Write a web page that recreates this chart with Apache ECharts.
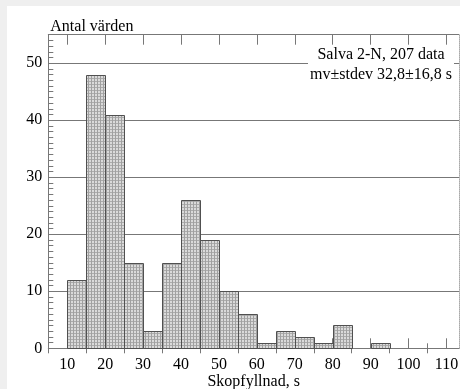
<!DOCTYPE html>
<html>
<head>
<meta charset="utf-8">
<script src="https://cdn.jsdelivr.net/npm/echarts@6/dist/echarts.min.js"></script>
<style>
html,body{margin:0;padding:0;background:#efefef;width:460px;height:389px;overflow:hidden;}
#c{position:absolute;left:7px;top:6px;width:453px;height:383px;background:#fff;}
</style>
</head>
<body>
<div id="c"></div>
<script>
// ---- data ----
const binStarts = [10,15,20,25,30,35,40,45,50,55,60,65,70,75,80,85,90];
const binWidth = 5;
const counts = [12,48,41,15,3,15,26,19,10,6,1,3,2,1,4,0,1];
const xMajorTicks = [10,20,30,40,50,60,70,80,90,100,110];
const xMinorTicks = [5,15,25,35,45,55,65,75,85,95,105];
const yTickLabels = [0,10,20,30,40,50];
const yAxisTitle = 'Antal värden';
const xAxisTitle = 'Skopfyllnad, s';
const infoLines = ['Salva 2-N, 207 data', 'mv±stdev 32,8±16,8 s'];

// ---- pattern ----
function makePattern(){
  const cv = document.createElement('canvas');
  cv.width = 3; cv.height = 3;
  const ctx = cv.getContext('2d');
  ctx.fillStyle = '#dadada'; ctx.fillRect(0,0,3,3);
  ctx.fillStyle = '#acacac'; ctx.fillRect(0,0,3,1);
  ctx.fillStyle = '#a0a0a0'; ctx.fillRect(0,0,1,3);
  return cv;
}
const pattern = {image: makePattern(), repeat: 'repeat'};

const FONT = '"Liberation Serif", "Times New Roman", serif';
const FS = 16;
const TXT = '#000';
const AX = '#777';
const X_MIN = 5, X_MAX = 113.3, Y_MIN = 0, Y_MAX = 55;

const histData = binStarts.map((s,i)=>[s, s+binWidth, counts[i]]);

const chart = echarts.init(document.getElementById('c'), null, {renderer:'canvas'});
chart.setOption({
  animation: false,
  backgroundColor: '#fff',
  title: {
    text: infoLines.join('\n'),
    left: 372, top: 39,
    textAlign: 'center',
    backgroundColor: '#fff',
    padding: [0, 2],
    textStyle: {fontFamily: FONT, fontSize: FS, fontWeight: 'normal', color: TXT, lineHeight: 20}
  },
  grid: {left: 41.3, right: 1, top: 28.7, bottom: 40.7, containLabel: false, outerBoundsMode: 'none'},
  xAxis: [
    {type:'value', position:'bottom', min:X_MIN, max:X_MAX,
     axisLine:{show:true, onZero:false, lineStyle:{color:AX, width:1}},
     axisTick:{show:true, inside:true, length:10, customValues:xMajorTicks, lineStyle:{color:AX}},
     axisLabel:{show:true, customValues:xMajorTicks, fontFamily:FONT, fontSize:FS, color:TXT, margin:8},
     splitLine:{show:false},
     name: xAxisTitle, nameLocation:'middle', nameGap:25, nameMoveOverlap:false,
     nameTextStyle:{fontFamily:FONT, fontSize:FS, color:TXT}},
    {type:'value', position:'bottom', offset:0, min:X_MIN, max:X_MAX,
     axisLine:{show:false},
     axisTick:{show:true, inside:true, length:5, customValues:xMinorTicks, lineStyle:{color:AX}},
     axisLabel:{show:false}, splitLine:{show:false}},
    {type:'value', position:'top', min:X_MIN, max:X_MAX,
     axisLine:{show:true, onZero:false, lineStyle:{color:AX, width:1}},
     axisTick:{show:true, inside:true, length:10, customValues:xMajorTicks, lineStyle:{color:AX}},
     axisLabel:{show:false}, splitLine:{show:false}},
    {type:'value', position:'top', offset:0, min:X_MIN, max:X_MAX,
     axisLine:{show:false},
     axisTick:{show:true, inside:true, length:5, customValues:xMinorTicks, lineStyle:{color:AX}},
     axisLabel:{show:false}, splitLine:{show:false}}
  ],
  yAxis: [
    {type:'value', position:'left', min:Y_MIN, max:Y_MAX, interval:10,
     axisLine:{show:true, onZero:false, lineStyle:{color:AX, width:1}},
     axisTick:{show:false},
     axisLabel:{show:true, customValues:yTickLabels, fontFamily:FONT, fontSize:FS, color:TXT, margin:6},
     splitLine:{show:true, lineStyle:{color:AX, width:1}},
     name: yAxisTitle, nameLocation:'end', nameGap:8, nameMoveOverlap:false,
     nameTextStyle:{fontFamily:FONT, fontSize:FS, color:TXT, align:'left', verticalAlign:'middle', padding:[0,0,0,2]}},
    {type:'value', position:'left', offset:0, min:Y_MIN, max:Y_MAX, interval:1,
     axisLine:{show:false},
     axisTick:{show:true, inside:true, length:5, lineStyle:{color:AX}},
     axisLabel:{show:false}, splitLine:{show:false}},
    {type:'value', position:'right', min:Y_MIN, max:Y_MAX,
     axisLine:{show:true, onZero:false, lineStyle:{color:'#aaa', type:'dotted', width:1}},
     axisTick:{show:false}, axisLabel:{show:false}, splitLine:{show:false}}
  ],
  series: [{
    type:'custom',
    xAxisIndex:0, yAxisIndex:0,
    data: histData,
    renderItem: function(params, api){
      const p0 = api.coord([api.value(0), api.value(2)]);
      const p1 = api.coord([api.value(1), 0]);
      const h = p1[1]-p0[1];
      if (h <= 0) return null;
      return {
        type:'rect',
        shape:{x:Math.round(p0[0])+0.5, y:Math.round(p0[1])+0.5, width:Math.round(p1[0])-Math.round(p0[0]), height:Math.round(p1[1])-Math.round(p0[1])},
        style:{fill: pattern, stroke:'#505050', lineWidth:1}
      };
    }
  }]
});
</script>
</body>
</html>
